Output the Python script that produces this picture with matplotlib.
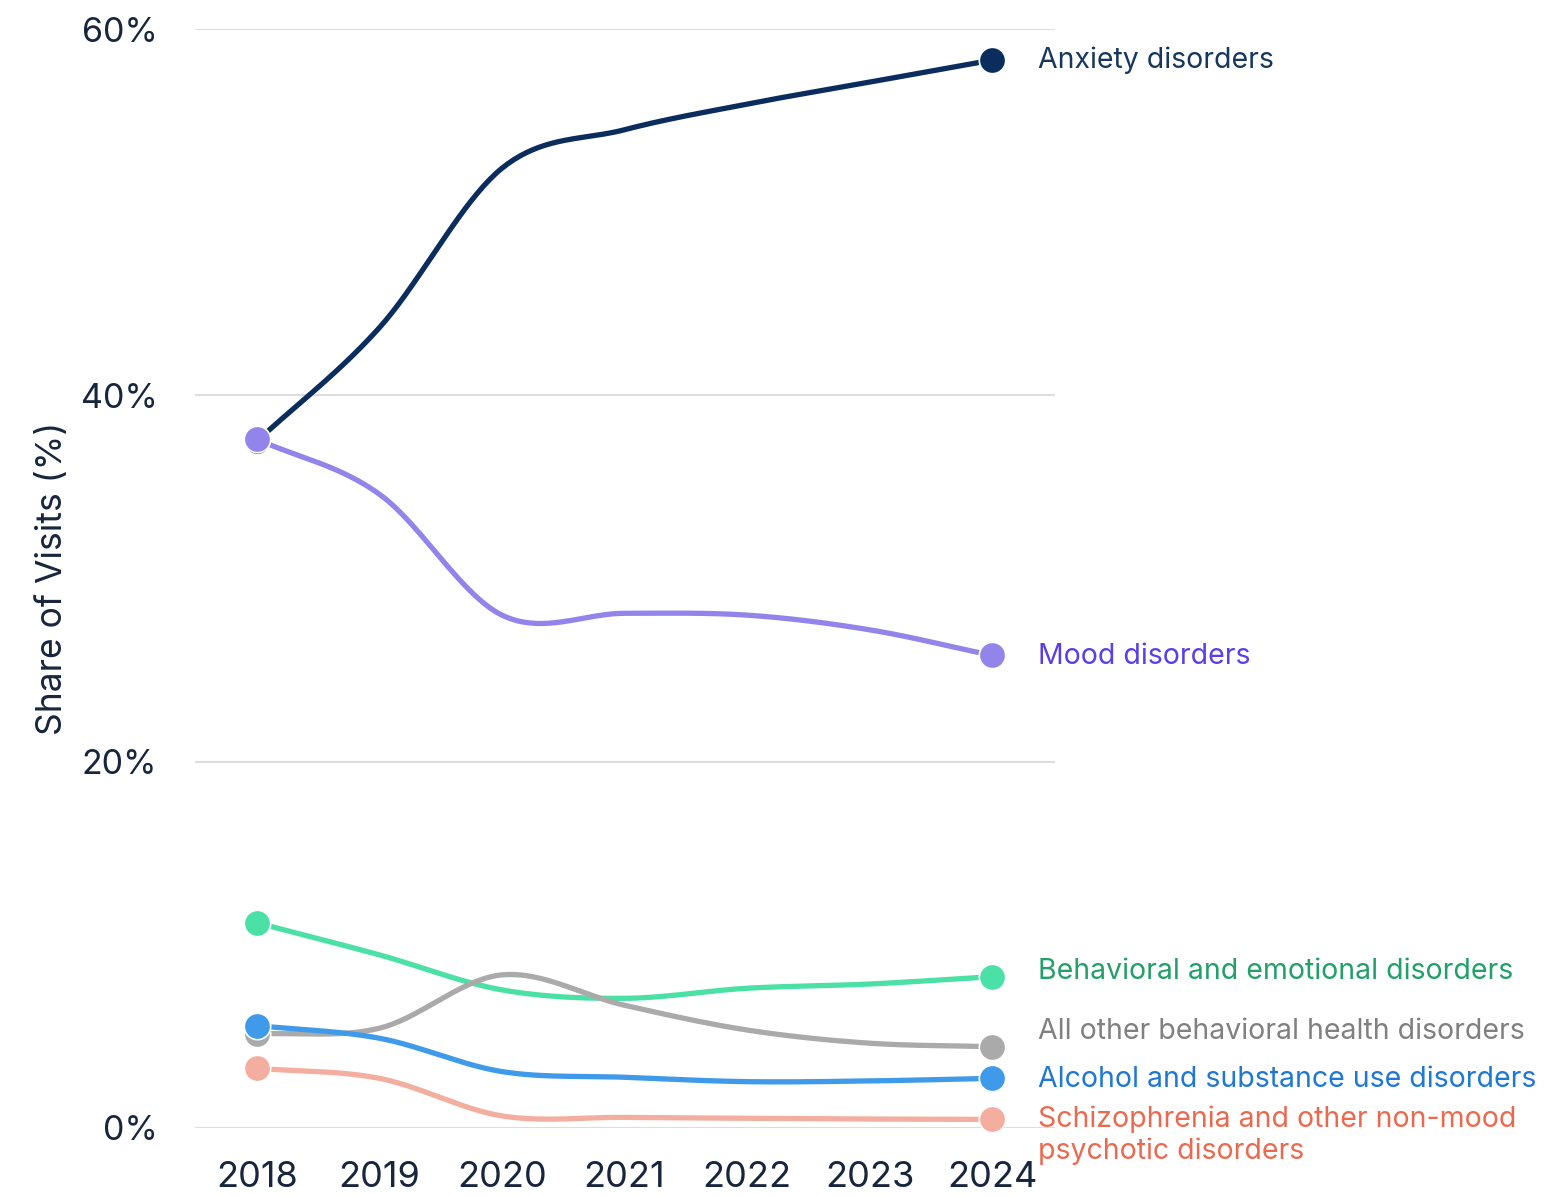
import matplotlib
matplotlib.use("Agg")
import matplotlib.pyplot as plt
import numpy as np

plt.rcParams['font.family'] = ['Inter', 'DejaVu Sans']

years = [2018, 2019, 2020, 2021, 2022, 2023, 2024]

anxiety = [37.5, 43.7, 52.4, 54.5, 55.9, 57.1, 58.3]
mood = [37.6, 34.6, 28.0, 28.1, 28.0, 27.2, 25.8]
behavioral = [11.2, 9.45, 7.54, 7.08, 7.63, 7.86, 8.26]
other = [5.13, 5.45, 8.36, 6.7, 5.35, 4.63, 4.44]
alcohol = [5.59, 4.9, 3.08, 2.77, 2.53, 2.57, 2.71]
schizo = [3.26, 2.71, 0.66, 0.58, 0.53, 0.49, 0.47]

series_names = [
    "Anxiety disorders",
    "Mood disorders",
    "Behavioral and emotional disorders",
    "All other behavioral health disorders",
    "Alcohol and substance use disorders",
    "Schizophrenia and other non-mood\npsychotic disorders",
]
series_values = [anxiety, mood, behavioral, other, alcohol, schizo]
line_colors = ['#0a2d5e', '#9284ea', '#4be0a5', '#aaaaaa', '#3f9ae9', '#f3ae9f']
text_colors = ['#17375e', '#5b3fe6', '#239f6a', '#808080', '#1f78d1', '#ea6a50']
# label nudges in points (dx, dy) from the last dot
label_offsets = [(33, 0), (33, -0.5), (33, 4), (33, 11), (33, -1), (33, -11.5)]


def catmull_rom(x, y, n=40):
    """Smooth curve through the points (Catmull-Rom spline)."""
    x = np.asarray(x, float)
    y = np.asarray(y, float)
    m = np.zeros_like(y)
    m[1:-1] = (y[2:] - y[:-2]) / (x[2:] - x[:-2])
    m[0] = (y[1] - y[0]) / (x[1] - x[0])
    m[-1] = (y[-1] - y[-2]) / (x[-1] - x[-2])
    xs, ys = [], []
    for i in range(len(x) - 1):
        h = x[i + 1] - x[i]
        t = np.linspace(0, 1, n, endpoint=(i == len(x) - 2))
        h00 = 2 * t**3 - 3 * t**2 + 1
        h10 = t**3 - 2 * t**2 + t
        h01 = -2 * t**3 + 3 * t**2
        h11 = t**3 - t**2
        xs.append(x[i] + t * h)
        ys.append(h00 * y[i] + h10 * h * m[i] + h01 * y[i + 1] + h11 * h * m[i + 1])
    return np.concatenate(xs), np.concatenate(ys)


fig = plt.figure(figsize=(15.6, 11.97), dpi=100)
ax = fig.add_axes([195 / 1560, 1 - 1128 / 1197, 860 / 1560, 1099 / 1197])

for i, (name, vals) in enumerate(zip(series_names, series_values)):
    sx, sy = catmull_rom(years, vals)
    ax.plot(sx, sy, color=line_colors[i], lw=3.8, solid_capstyle='round',
            zorder=3 + i * 2, clip_on=False)
    ax.plot([years[0], years[-1]], [vals[0], vals[-1]], 'o', ms=19,
            color=line_colors[i], mec='white', mew=1.2, zorder=4 + i * 2,
            clip_on=False)
    ax.annotate(name, xy=(years[-1], vals[-1]), xytext=label_offsets[i],
                textcoords='offset points', ha='left', va='center',
                fontsize=20.5, color=text_colors[i], linespacing=1.2,
                annotation_clip=False, zorder=20)

ax.set_xlim(2017.494, 2024.514)
ax.set_ylim(0, 60)
ax.set_yticks([0, 20, 40, 60])
ax.set_yticklabels(['0%', '20%', '40%', '60%'])
ax.set_xticks(years)
ax.set_xticklabels([str(y) for y in years])
ax.grid(axis='y', color='#dddddd', lw=1.5, zorder=0)
ax.set_axisbelow(True)
for s in ax.spines.values():
    s.set_visible(False)
ax.tick_params(axis='both', length=0, labelcolor='#17263d')
ax.tick_params(axis='y', pad=27, labelsize=24.5)
ax.tick_params(axis='x', pad=24, labelsize=26)
ax.set_ylabel("Share of Visits (%)", fontsize=25.5, color='#17263d')
ax.yaxis.set_label_coords(-0.147, 0.5)

fig.savefig("out.png", dpi=100, facecolor='white')
